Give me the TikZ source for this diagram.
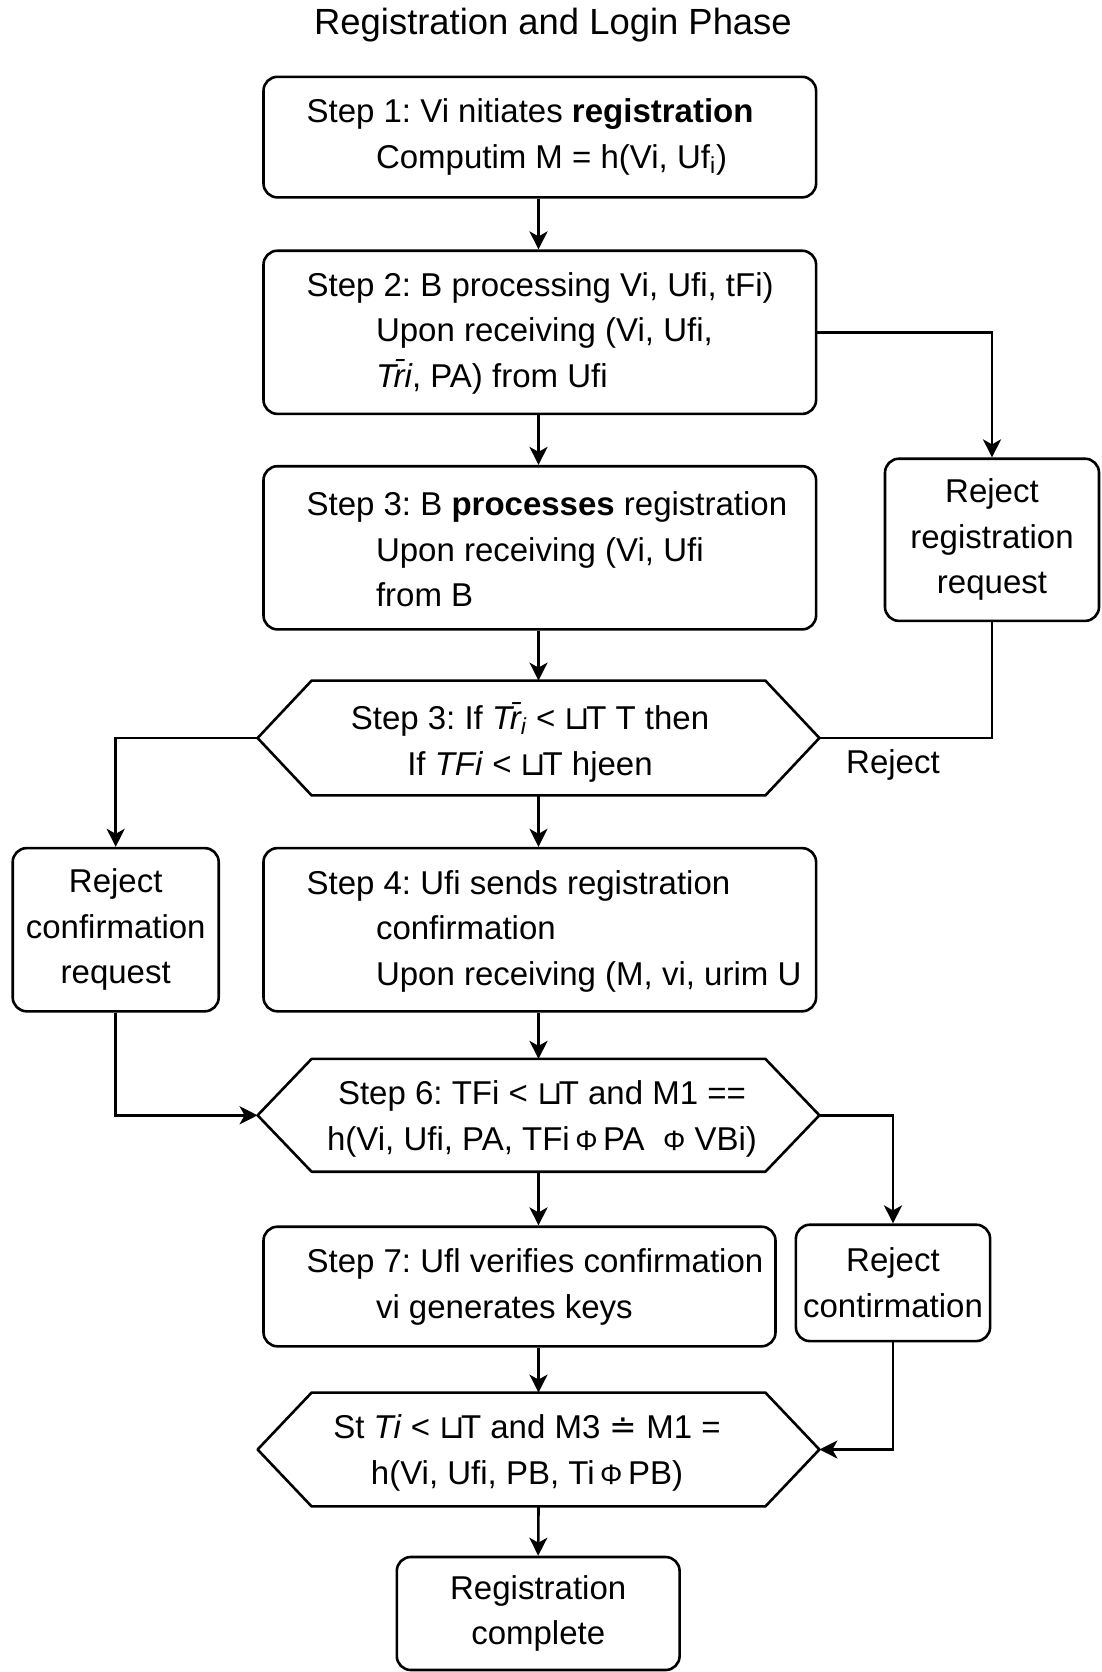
\documentclass[tikz,border=0pt]{standalone}
\usepackage{fontspec}
\setmainfont{Liberation Sans}
\newfontfamily\symf{DejaVu Sans}
\usetikzlibrary{arrows.meta,calc}

% small helper glyphs used in the conditions
\newcommand\cupT{{\symf ⊔}\kern-0.12em T}
\newcommand\xorb{{\fontsize{14}{14}\selectfont Φ}}
\newcommand\dotEq{{\symf ≐}}
\newcommand\hexin{27pt}
\newcommand\hexoutline[1]{%
  \draw[shapeline] ([xshift=\hexin]#1.north west) -- ([xshift=-\hexin]#1.north east)
    -- (#1.east) -- ([xshift=-\hexin]#1.south east) -- ([xshift=\hexin]#1.south west)
    -- (#1.west) -- cycle;}

\tikzset{
  bodyfont/.style={font=\fontsize{16.5}{22.75}\selectfont},
  shapeline/.style={draw=black, line width=1.3pt, line join=round},
  stepbox/.style={shapeline, rounded corners=7pt, minimum width=276.3pt, inner sep=0pt},
  rejbox/.style={shapeline, rounded corners=7pt, inner sep=0pt, bodyfont, align=center},
  hexnode/.style={minimum width=280.5pt, inner sep=0pt},
  steptext/.style={bodyfont, align=left, anchor=west, inner sep=0pt},
  hextext/.style={bodyfont, align=center, inner sep=0pt},
  flow/.style={line width=1.3pt, -{Stealth[length=9pt,width=9pt,inset=2.5pt]}},
  plain/.style={line width=1.3pt},
}

\begin{document}
\frenchspacing
\begin{tikzpicture}[x=0.5pt, y=-0.5pt]
\useasboundingbox[fill=white] (0,0) rectangle (1102,1672);

% title
\node[font=\fontsize{18.2}{22}\selectfont, inner sep=0pt] (title) at (553,25) {Registration and Login Phase};

% main column
\node[stepbox, minimum height=60.3pt] (s1) at (539.8,137.1) {};
\node[steptext] (s1t) at (306.2,137.1) {Step 1: Vi nitiates \textbf{registration}\\\hspace*{34.7pt}Computim M = h(Vi, Uf\textsubscript{i})};

\node[stepbox, minimum height=81.6pt] (s2) at (539.8,332.3) {};
\node[steptext] (s2t) at (306.2,333.4) {Step 2: B processing Vi, Ufi, tFi)\\\hspace*{34.7pt}Upon receiving (Vi, Ufi,\\\hspace*{34.7pt}\textit{T\={r}i}, PA) from Ufi};

\node[stepbox, minimum height=81.6pt] (s3) at (539.8,547.8) {};
\node[steptext] (s3t) at (306.2,549.4) {Step 3: B \textbf{processes} registration\\\hspace*{34.7pt}Upon receiving (Vi, Ufi\\\hspace*{34.7pt}from B};

\node[hexnode, minimum height=57pt] (h1) at (538.5,738) {};
\hexoutline{h1}
\node[hextext] (h1t) at (530,742) {Step 3: If \textit{T\={r}\textsubscript{i}} < \cupT{} T then\\If \textit{TFi} < \cupT{} hjeen};

\node[stepbox, minimum height=81.6pt] (s4) at (539.8,929.7) {};
\node[steptext] (s4t) at (306.2,931.2) {Step 4: Ufi sends registration\\\hspace*{34.7pt}confirmation\\\hspace*{34.7pt}Upon receiving (M, vi, urim U};

\node[hexnode, minimum height=56pt] (h2) at (538.5,1115.3) {};
\hexoutline{h2}
\node[hextext] (h2t) at (542,1119) {Step 6: TFi < \cupT{} and M1 ==\\h(Vi, Ufi, PA, TFi\,\xorb\,PA \ \xorb\ VBi)};

\node[stepbox, minimum width=256pt, minimum height=59.8pt] (s7) at (519.5,1286.5) {};
\node[steptext] (s7t) at (306.2,1287.1) {Step 7: Ufl verifies confirmation\\\hspace*{34.7pt}vi generates keys};

\node[hexnode, minimum height=56.5pt] (h3) at (538.5,1449.5) {};
\hexoutline{h3}
\node[hextext] (h3t) at (527,1453) {St \textit{Ti} < \cupT{} and M3 \dotEq{} M1 =\\h(Vi, Ufi, PB, Ti\,\xorb\,PB)};

\node[rejbox, minimum width=141.4pt, minimum height=56.5pt] (done) at (538.2,1613.5) {Registration\\complete};

% side branches
\node[rejbox, minimum width=107pt, minimum height=81.1pt] (rr) at (992,539.8) {Reject\\registration\\request};
\node[rejbox, minimum width=103pt, minimum height=81.6pt] (rc) at (115.7,929.7) {Reject\\confirmation\\request};
\node[rejbox, minimum width=97.1pt, minimum height=58.2pt] (rk) at (893,1282.9) {Reject\\contirmation};
\node[bodyfont, inner sep=0pt] (rejlbl) at (893,765) {Reject};

% main flow
\draw[flow] (s1.south -| h1.center) -- (s2.north -| h1.center);
\draw[flow] (s2.south -| h1.center) -- (s3.north -| h1.center);
\draw[flow] (s3.south -| h1.center) -- (h1.north);
\draw[flow] (h1.south) -- (s4.north -| h1.center);
\draw[flow] (s4.south -| h1.center) -- (h2.north);
\draw[flow] (h2.south) -- (s7.north -| h2.center);
\draw[flow] (s7.south -| h3.center) -- (h3.north);
\draw[flow] (h3.south) -- (done.north);

% branch connectors
\draw[flow] (s2.east) -| (rr.north);
\draw[plain] (rr.south) |- (h1.east);
\draw[flow] (h1.west) -| (rc.north);
\draw[flow] (rc.south) |- (h2.west);
\draw[flow] (h2.east) -| (rk.north);
\draw[flow] (rk.south) |- (h3.east);
\end{tikzpicture}
\end{document}
